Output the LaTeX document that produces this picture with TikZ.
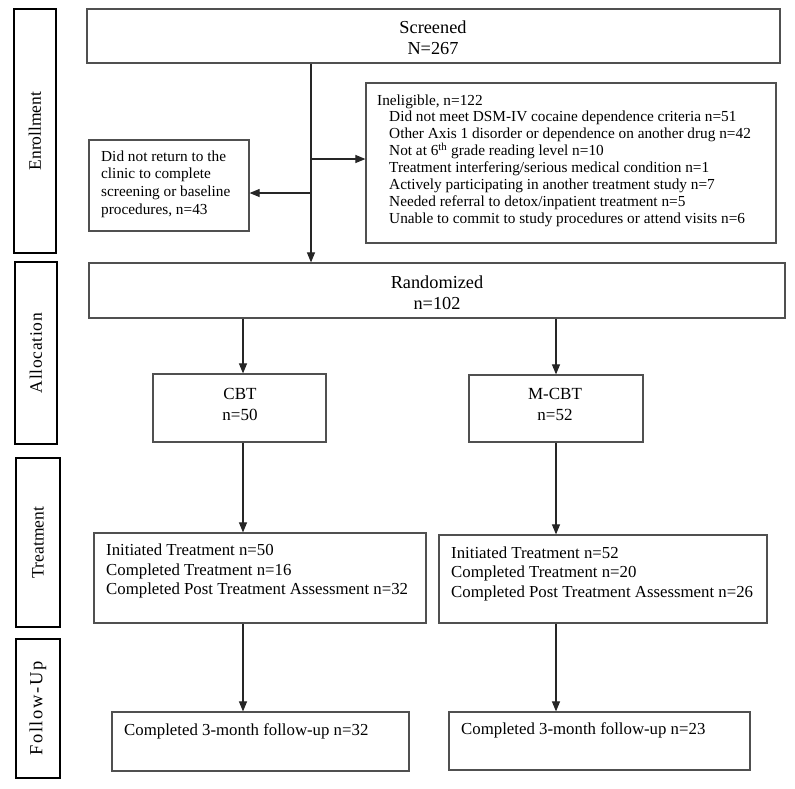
\documentclass[tikz,border=0pt]{standalone}
\usepackage{fontspec}
\setmainfont{Liberation Serif}
\usetikzlibrary{fit,arrows.meta}
\definecolor{boxgray}{HTML}{505050}
\begin{document}
\begin{tikzpicture}[x=1pt,y=-1pt,
  box/.style={draw=boxgray,line width=1.2pt,inner sep=0pt,fill=none},
  lane/.style={draw=black,line width=1.8pt,inner sep=0pt},
  lanetext/.style={rotate=90,inner sep=0pt,font=\fontsize{17.5}{20}\selectfont},
  arr/.style={draw=black!85,line width=1.1pt,-{Triangle[length=10pt,width=8pt]}},
  txt/.style={inner sep=0pt,text=black},
  big/.style={txt,align=center,font=\fontsize{18.3}{21}\selectfont},
  mid/.style={txt,align=center,font=\fontsize{17}{20.5}\selectfont},
  small/.style={txt,align=left,anchor=west,font=\fontsize{15.3}{16.9}\selectfont},
  tr/.style={txt,align=left,anchor=west,font=\fontsize{16.8}{19.5}\selectfont}]
\useasboundingbox[fill=white] (0,0) rectangle (795,788);

% lane labels
\node[lane,fit={(14,9) (56,253)}] (lenr) {};
\node[lanetext] (tenr) at (lenr.center) {Enrollment};
\node[lane,fit={(15,262) (57,444)}] (lall) {};
\node[lanetext] (tall) at (lall.center) {\addfontfeatures{LetterSpace=4}Allocation};
\node[lane,fit={(16,458) (60,627)}] (ltre) {};
\node[lanetext] (ttre) at (ltre.center) {Treatment};
\node[lane,fit={(16,639) (60,778)}] (lfol) {};
\node[lanetext,font=\fontsize{18.5}{20}\selectfont] (tfol) at (lfol.center) {\addfontfeatures{LetterSpace=9}Follow-Up};

% enrollment
\node[box,fit={(87,9) (780,63)}] (scr) {};
\node[big] (tscr) at (433,38) {Screened\\N=267};
\node[box,fit={(89,140) (249,231)}] (drop) {};
\node[small,font=\fontsize{15.3}{17.6}\selectfont] (tdrop) at (101,184) {Did not return to the\\clinic to complete\\screening or baseline\\procedures, n=43};
\node[box,fit={(366,83) (776,243)}] (inel) {};
\node[small] (tinel) at (377,160.5) {Ineligible, n=122\\
\hspace*{12pt}Did not meet DSM-IV cocaine dependence criteria n=51\\
\hspace*{12pt}Other Axis 1 disorder or dependence on another drug n=42\\
\hspace*{12pt}Not at 6\textsuperscript{th} grade reading level n=10\\
\hspace*{12pt}Treatment interfering/serious medical condition n=1\\
\hspace*{12pt}Actively participating in another treatment study n=7\\
\hspace*{12pt}Needed referral to detox/inpatient treatment n=5\\
\hspace*{12pt}Unable to commit to study procedures or attend visits n=6};

% allocation
\node[box,fit={(89,263) (785,318)}] (rnd) {};
\node[big] (trnd) at (437,293) {Randomized\\n=102};
\node[box,fit={(153,374) (326,442)}] (cbt) {};
\node[mid] (tcbt) at (240,404.5) {CBT\\n=50};
\node[box,fit={(469,375) (643,442)}] (mcbt) {};
\node[mid] (tmcbt) at (555,404.5) {M-CBT\\n=52};

% treatment
\node[box,fit={(94,533) (426,623)}] (trl) {};
\node[tr] (ttrl) at (106,571) {Initiated Treatment n=50\\Completed Treatment n=16\\Completed Post Treatment Assessment n=32};
\node[box,fit={(439,535) (767,623)}] (trr) {};
\node[tr] (ttrr) at (451,573.5) {Initiated Treatment n=52\\Completed Treatment n=20\\Completed Post Treatment Assessment n=26};

% follow-up
\node[box,fit={(112,712) (409,771)}] (fol) {};
\node[tr] (tfoll) at (124,731) {Completed 3-month follow-up n=32};
\node[box,fit={(449,712) (750,770)}] (for) {};
\node[tr] (tforr) at (461,730) {Completed 3-month follow-up n=23};

% connectors
\coordinate (xm) at (311,0);
\coordinate (xl) at (243,0);
\coordinate (xr) at (556,0);
\coordinate (j1) at (311,159);
\coordinate (j2) at (311,193);
\draw[arr] (scr.south -| xm) -- (rnd.north -| xm);
\draw[arr] (j1) -- (inel.west |- j1);
\draw[arr] (j2) -- (drop.east |- j2);
\draw[arr] (rnd.south -| xl) -- (cbt.north -| xl);
\draw[arr] (rnd.south -| xr) -- (mcbt.north -| xr);
\draw[arr] (cbt.south -| xl) -- (trl.north -| xl);
\draw[arr] (mcbt.south -| xr) -- (trr.north -| xr);
\draw[arr] (trl.south -| xl) -- (fol.north -| xl);
\draw[arr] (trr.south -| xr) -- (for.north -| xr);
\end{tikzpicture}
\end{document}
